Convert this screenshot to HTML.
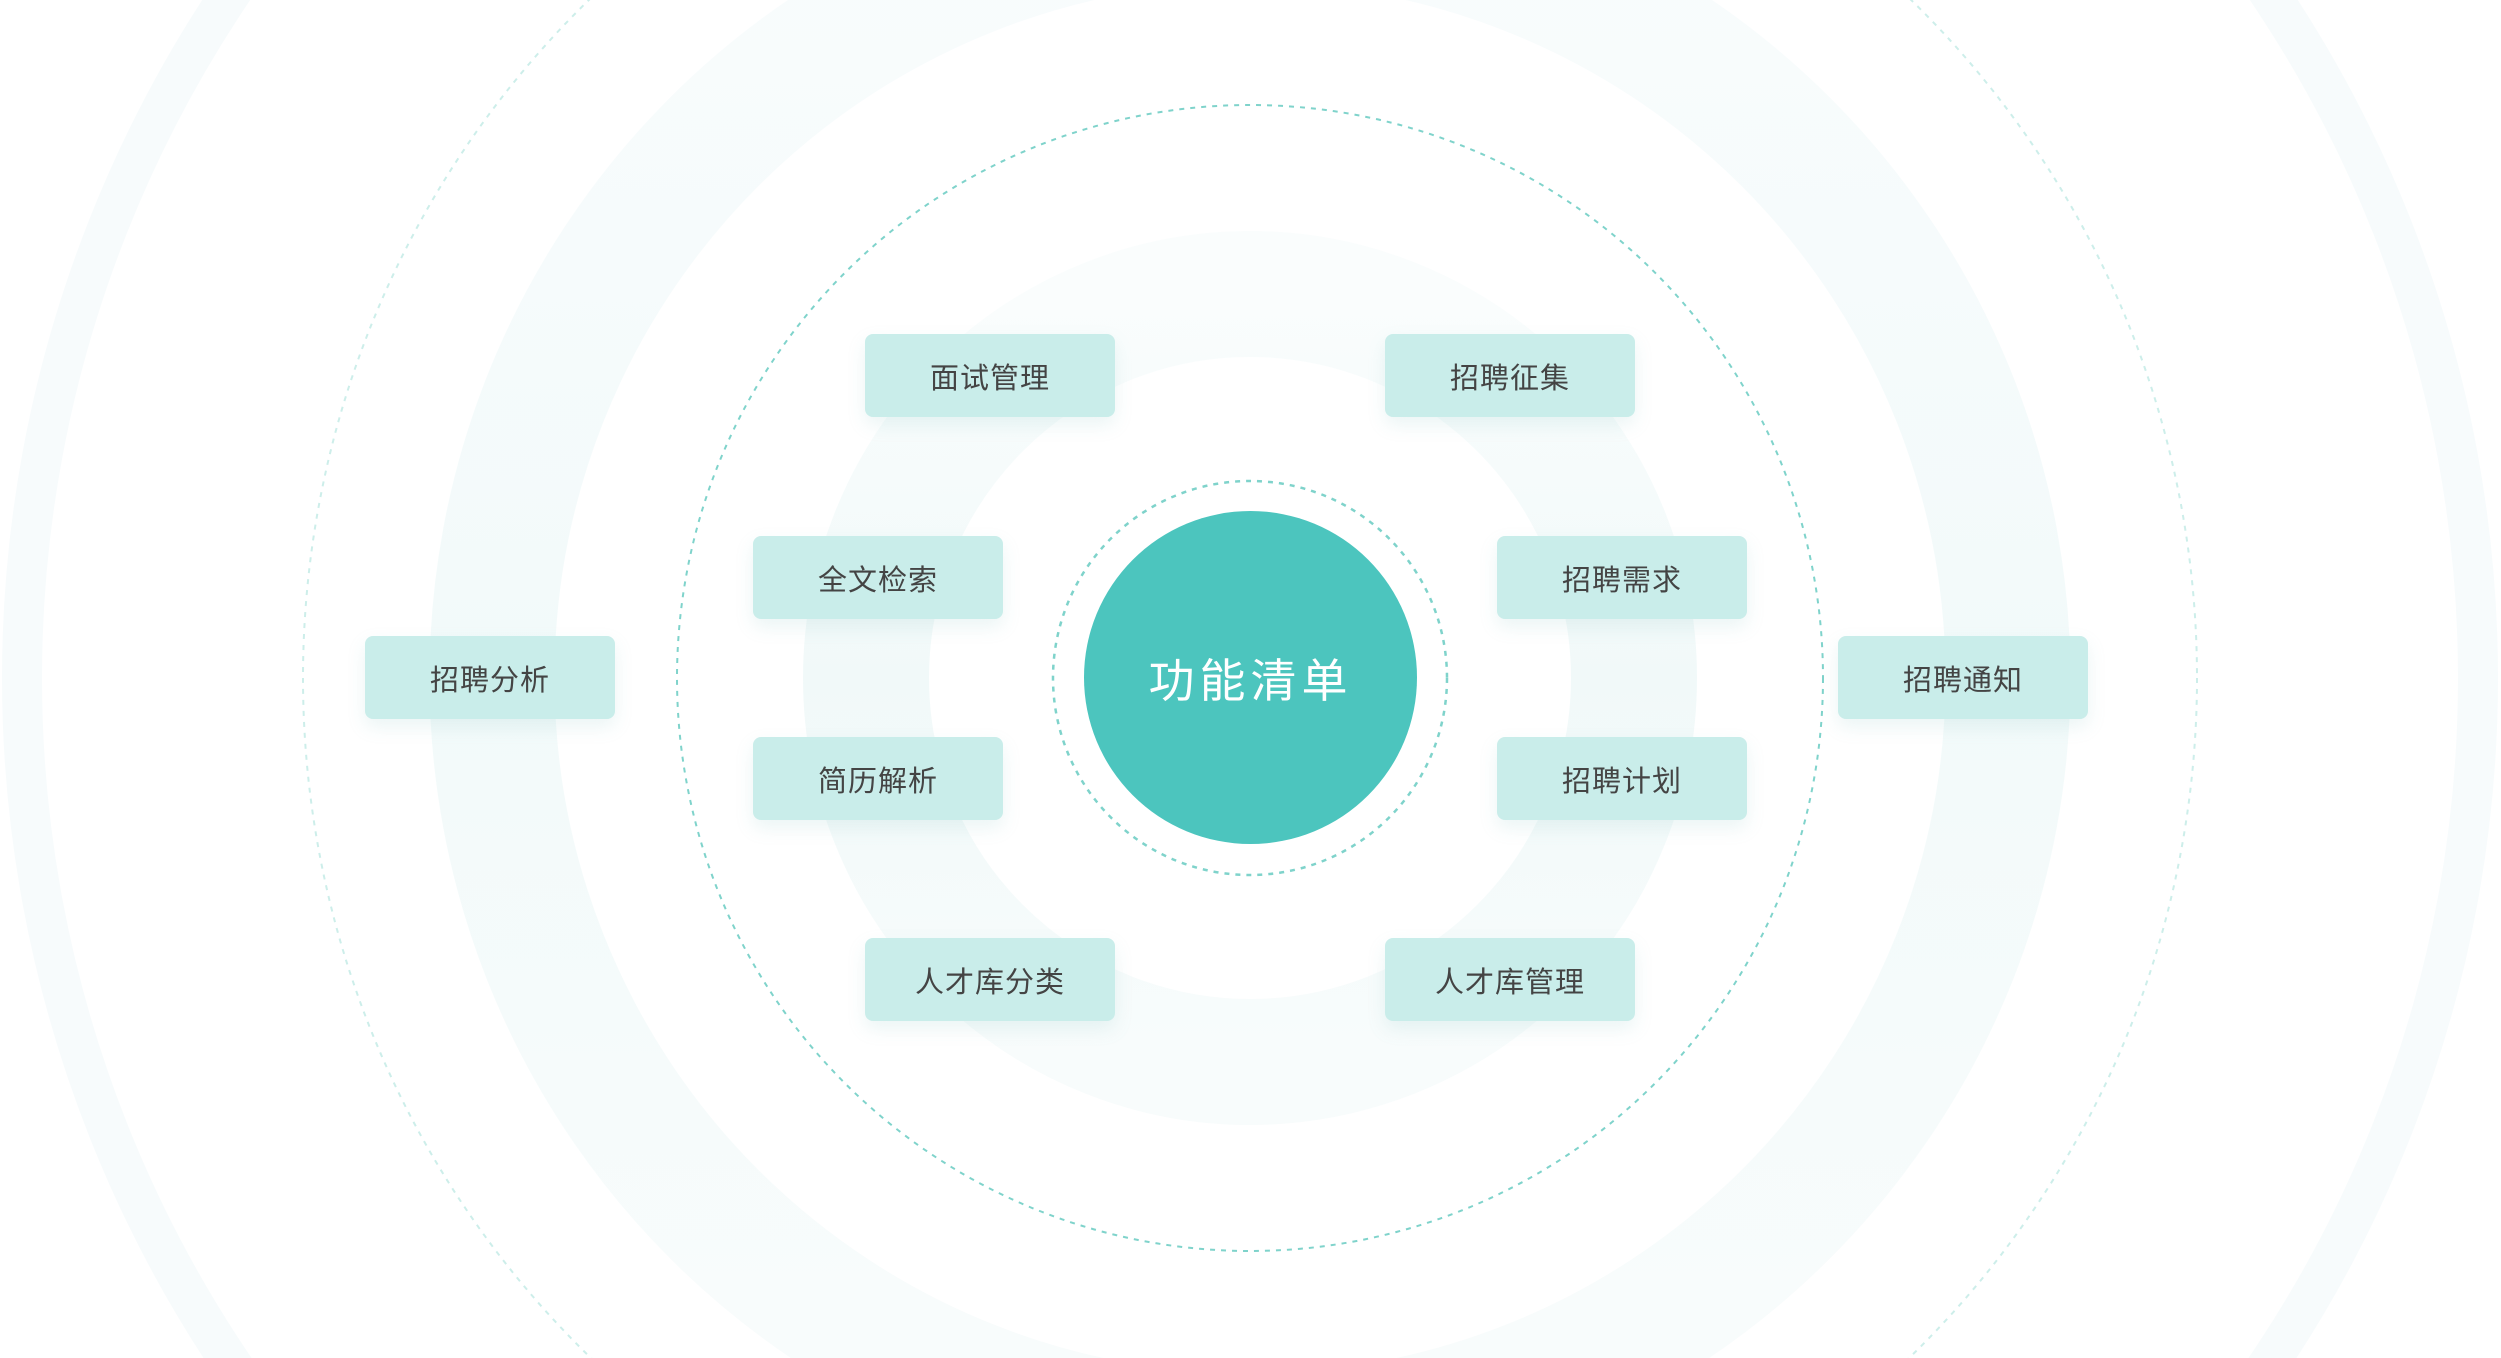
<!DOCTYPE html>
<html><head><meta charset="utf-8"><style>
html,body{margin:0;padding:0;background:#fff;width:2501px;height:1358px;overflow:hidden;}
body{position:relative;font-family:"Liberation Sans","Noto Sans CJK SC",sans-serif;}
svg{position:absolute;left:0;top:0;display:block;}
.b{position:absolute;width:250px;height:83px;background:#c9edea;border-radius:8px;box-shadow:0 8px 18px rgba(120,190,185,0.15);color:#444;font-size:29px;display:flex;align-items:center;justify-content:center;letter-spacing:1px;}
.c{position:absolute;left:1084px;top:511px;width:333px;height:333px;border-radius:50%;background:#4cc5be;color:#fff;font-size:46px;display:flex;align-items:center;justify-content:center;letter-spacing:5px;}
</style></head><body>
<svg width="2501" height="1358" viewBox="0 0 2501 1358">
<defs>
<linearGradient id="g1" x1="0" y1="0" x2="0" y2="1"><stop offset="0" stop-color="#f9fcfd"/><stop offset="0.5" stop-color="#f2fafa"/><stop offset="1" stop-color="#f9fcfc"/></linearGradient>
<linearGradient id="g2" x1="0" y1="0" x2="0" y2="1"><stop offset="0" stop-color="#fafdfd"/><stop offset="0.5" stop-color="#f1f9f9"/><stop offset="1" stop-color="#f8fcfc"/></linearGradient>
</defs>
<circle cx="1250" cy="678" r="1228" fill="none" stroke="#f7fbfc" stroke-width="40"/>
<circle cx="1250" cy="678" r="758" fill="none" stroke="url(#g1)" stroke-width="125"/>
<circle cx="1250" cy="678" r="384" fill="none" stroke="url(#g2)" stroke-width="126"/>
<circle cx="1250" cy="678" r="947" fill="none" stroke="#cdeeea" stroke-width="2" stroke-dasharray="5 6"/>
<circle cx="1250" cy="678" r="573" fill="none" stroke="#7fd3cb" stroke-width="2" stroke-dasharray="5 6"/>
<circle cx="1250" cy="678" r="197" fill="none" stroke="#7fd3cb" stroke-width="2.5" stroke-dasharray="5 6"/>
</svg>
<div class="c">功能清单</div>
<div class="b" style="left:865px;top:334px">面试管理</div>
<div class="b" style="left:1385px;top:334px">招聘征集</div>
<div class="b" style="left:753px;top:536px">全文检索</div>
<div class="b" style="left:1497px;top:536px">招聘需求</div>
<div class="b" style="left:753px;top:737px">简历解析</div>
<div class="b" style="left:1497px;top:737px">招聘计划</div>
<div class="b" style="left:865px;top:938px">人才库分类</div>
<div class="b" style="left:1385px;top:938px">人才库管理</div>
<div class="b" style="left:365px;top:636px">招聘分析</div>
<div class="b" style="left:1838px;top:636px">招聘通知</div>
</body></html>
